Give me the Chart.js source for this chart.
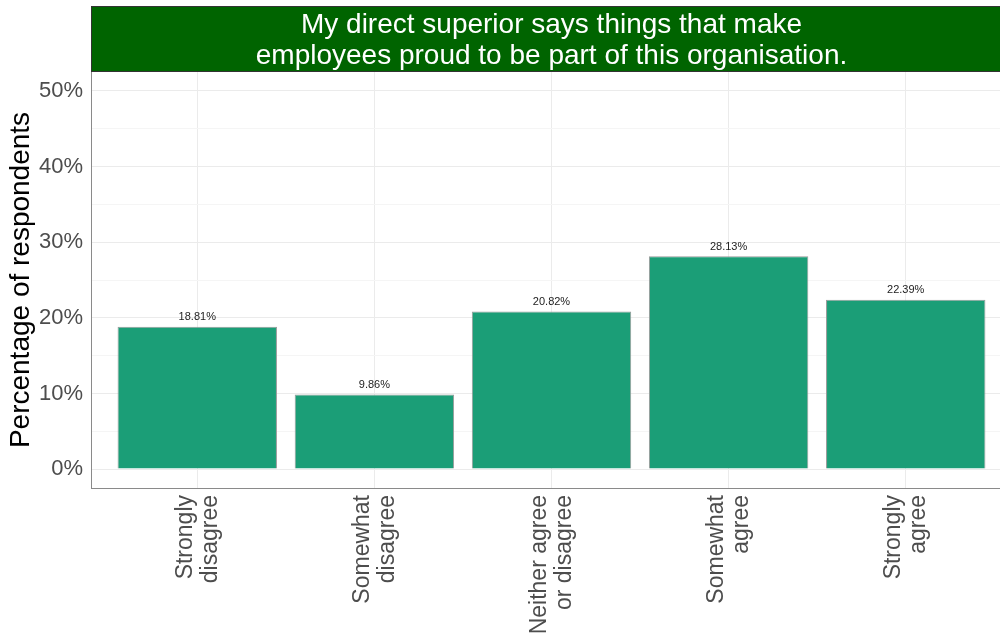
<!DOCTYPE html>
<html>
<head>
<meta charset="utf-8">
<script src="https://cdn.jsdelivr.net/npm/chart.js@4.4.1/dist/chart.umd.min.js"></script>
<style>
  html, body { margin: 0; padding: 0; background: #fff; overflow: hidden; }
  #wrap { width: 1012px; height: 642px; position: relative; }
</style>
</head>
<body>
<div id="wrap"><canvas id="chart"></canvas></div>
<script>
var titleLines = ['My direct superior says things that make', 'employees proud to be part of this organisation.'];
var categories = [['Strongly', 'disagree'], ['Somewhat', 'disagree'], ['Neither agree', 'or disagree'], ['Somewhat', 'agree'], ['Strongly', 'agree']];
var values = [18.81, 9.86, 20.82, 28.13, 22.39];
var yTicks = [0, 5, 10, 15, 20, 25, 30, 35, 40, 45, 50];

var font = "'Liberation Sans', Arial, sans-serif";

var banner = {
    id: 'banner',
    beforeDraw: function(chart){
        var ctx = chart.ctx, a = chart.chartArea;
        ctx.save();
        ctx.fillStyle = '#006400';
        ctx.fillRect(a.left, 6, a.right - a.left, 66);
        ctx.strokeStyle = '#333333';
        ctx.lineWidth = 1;
        ctx.strokeRect(a.left + 0.5, 6.5, a.right - a.left, 65);
        ctx.fillStyle = '#ffffff';
        ctx.font = '28px ' + font;
        ctx.textAlign = 'center';
        ctx.textBaseline = 'alphabetic';
        var cx = (a.left + a.right) / 2;
        ctx.fillText(titleLines[0], cx, 33);
        ctx.fillText(titleLines[1], cx, 64);
        ctx.restore();
    }
};

var barLabels = {
    id: 'barLabels',
    afterDatasetsDraw: function(chart){
        var ctx = chart.ctx;
        var meta = chart.getDatasetMeta(0);
        ctx.save();
        ctx.fillStyle = '#222222';
        ctx.font = '11px ' + font;
        ctx.textAlign = 'center';
        ctx.textBaseline = 'bottom';
        meta.data.forEach(function(bar, i){
            ctx.fillText(values[i].toFixed(2) + '%', bar.x, bar.y - 4);
        });
        ctx.restore();
    }
};

var chart = new Chart(document.getElementById('chart'), {
    type: 'bar',
    data: {
        datasets: [{
            data: values.map(function(v, i){ return {x: i + 1, y: v}; }),
            backgroundColor: '#1b9e77',
            borderColor: '#9a9a9a',
            borderWidth: 1,
            barPercentage: 0.9,
            categoryPercentage: 1
        }]
    },
    options: {
        responsive: true,
        maintainAspectRatio: false,
        animation: false,
        layout: { padding: { top: 72, left: 0, right: 0, bottom: 0 } },
        plugins: { legend: { display: false }, tooltip: { enabled: false } },
        scales: {
            x: {
                type: 'linear',
                offset: false,
                min: 0.4,
                max: 5.6,
                afterBuildTicks: function(s){ s.ticks = [1, 2, 3, 4, 5].map(function(v){ return {value: v}; }); },
                afterFit: function(s){ s.height = 154; },
                grid: { color: '#ebebeb', drawTicks: false, offset: false },
                border: { color: '#8a8a8a', width: 1 },
                ticks: {
                    autoSkip: false,
                    minRotation: 90,
                    maxRotation: 90,
                    padding: 7,
                    labelOffset: -12,
                    color: '#4d4d4d',
                    font: { family: font, size: 23, lineHeight: 1.1 },
                    callback: function(v){ return categories[v - 1]; }
                }
            },
            y: {
                min: -2.5,
                max: 52.5,
                afterBuildTicks: function(s){ s.ticks = yTicks.map(function(v){ return {value: v}; }); },
                afterFit: function(s){ s.width = 91; },
                grid: {
                    drawTicks: false,
                    color: function(c){ return c.tick && c.tick.value % 10 === 0 ? '#ebebeb' : '#f5f5f5'; }
                },
                border: { color: '#8a8a8a', width: 1 },
                ticks: {
                    padding: 8,
                    color: '#4d4d4d',
                    font: { family: font, size: 22 },
                    callback: function(v){ return v % 10 === 0 ? v + '%' : ''; }
                },
                title: {
                    display: true,
                    text: 'Percentage of respondents',
                    color: '#000000',
                    font: { family: font, size: 28 },
                    padding: { top: 4, bottom: 0 }
                }
            }
        }
    },
    plugins: [banner, barLabels]
});
</script>
</body>
</html>
